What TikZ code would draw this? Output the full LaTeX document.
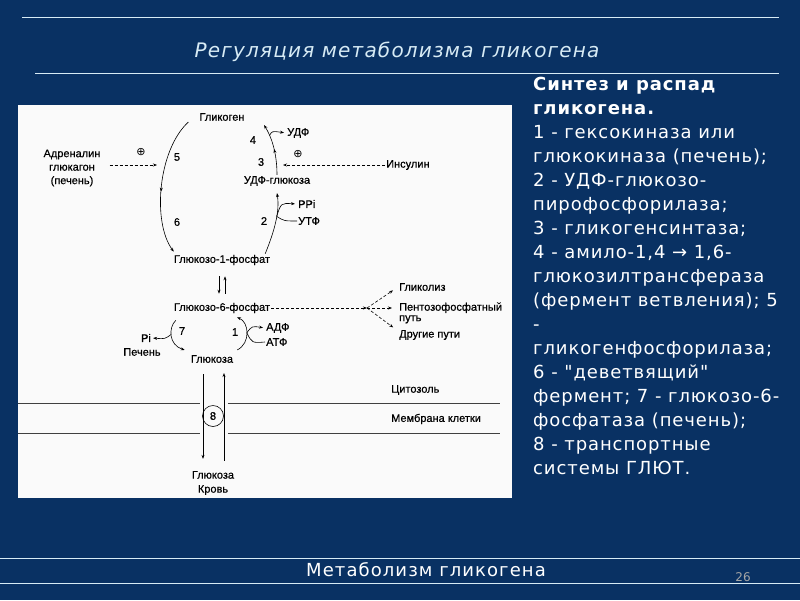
\documentclass[tikz,border=0pt]{standalone}
\usepackage{fontspec}
\setmainfont{DejaVu Sans}[Ligatures=TeXOff]
\newfontfamily\diafont{Liberation Sans}[FakeBold=0.5]
\usetikzlibrary{arrows.meta,positioning,decorations.markings}
\definecolor{slidebg}{RGB}{9,49,99}
\definecolor{rulefg}{RGB}{215,235,245}
\definecolor{pagebg}{RGB}{250,250,250}

\begin{document}
\begin{tikzpicture}[x=1pt, y=-1pt,
    lbl/.style={font=\diafont\fontsize{11}{13}\selectfont, inner sep=1pt, align=center},
    num/.style={font=\diafont\fontsize{11}{13}\selectfont, inner sep=1pt},
    act/.style={inner sep=0, font=\fontsize{11}{12}\selectfont},
    arr/.style={-{Stealth[length=4pt,width=3pt]}, semithick},
    dasharr/.style={arr, dash pattern=on 3pt off 2pt},
    midarr/.style={postaction={decorate}, decoration={markings, mark=at position #1 with {\arrow{Stealth[length=4pt,width=3pt]}}}},
    memb/.style={line width=0.9pt, black!75},
    rule/.style={line width=1pt, rulefg}
]
\fill[slidebg] (0,0) rectangle (800,600);
\useasboundingbox (0,0) rectangle (800,600);
\draw[rule] (22,17) -- (779,17);
\draw[rule] (35,73) -- (779,73);
\draw[rule] (0,558) -- (800,558);
\draw[rule] (0,583) -- (800,583);
\node[font=\fontsize{20}{24}\selectfont\itshape\addfontfeature{LetterSpace=6}, text=rulefg] (title) at (397,52) {Регуляция метаболизма гликогена};
\node[font=\fontsize{18}{20}\selectfont\addfontfeature{LetterSpace=6}, text=white] (foot) at (426,570) {Метаболизм гликогена};
\node[font=\fontsize{12}{14}\selectfont, text=black!35] (page) at (743,577) {26};

\fill[pagebg] (18,105) rectangle (512,498);

\node[lbl] (glk) at (222,117) {Гликоген};
\node[lbl] (udpg) at (277,181) {УДФ-глюкоза};
\node[lbl] (g1p) at (222,260) {Глюкозо-1-фосфат};
\node[lbl] (g6p) at (222,308) {Глюкозо-6-фосфат};
\node[lbl] (glc) at (212,359) {Глюкоза};
\node[lbl, font=\diafont\fontsize{11}{14}\selectfont] (blood) at (213,483) {Глюкоза\\Кровь};
\node[lbl, font=\diafont\fontsize{11}{13.5}\selectfont] (adr) at (72,168) {Адреналин\\глюкагон\\(печень)};
\node[lbl, anchor=west] (ins) at (385,165) {Инсулин};
\node[lbl, anchor=west] (udp) at (286,133) {УДФ};
\node[lbl, anchor=west] (ppi) at (297,204) {PPi};
\node[lbl, anchor=west] (utp) at (297,221) {УТФ};
\node[lbl, anchor=west] (adp) at (265,328) {АДФ};
\node[lbl, anchor=west] (atp) at (265,342) {АТФ};
\node[lbl] (pi) at (146,338) {Pi};
\node[lbl] (liver) at (142,352) {Печень};
\node[lbl, anchor=west] (glyc) at (398,287) {Гликолиз};
\node[lbl, anchor=west, align=left, font=\diafont\fontsize{11}{10.5}\selectfont] (ppp) at (398,313) {Пентозофосфатный\\путь};
\node[lbl, anchor=west] (other) at (398,335) {Другие пути};
\node[lbl, anchor=west] (cyto) at (390,390) {Цитозоль};
\node[lbl, anchor=west] (membr) at (390,419) {Мембрана клетки};
\node[num] (n5) at (177,157) {5};
\node[num] (n6) at (177,222) {6};
\node[num] (n4) at (253,140) {4};
\node[num] (n3) at (261,162) {3};
\node[num] (n2) at (264,221) {2};
\node[num] (n7) at (182,331) {7};
\node[num] (n1) at (235,332) {1};
\node[act] (act1) at (141,152) {⊕};
\node[act] (act2) at (298,154) {⊕};
\coordinate (top4) at (264,125);
\coordinate (ins3) at (283,165);
\coordinate (fan) at (367,308);

\draw[memb] (18,403) -- (200,403);
\draw[memb] (228,403) -- (500,403);
\draw[memb] (18,433) -- (200,433);
\draw[memb] (228,433) -- (500,433);
\node[circle, draw, semithick, fill=pagebg, minimum size=21pt, inner sep=0, font=\diafont\fontsize{11}{12}\selectfont] (glut) at (213,416) {8};

\draw[arr, midarr=0.55] ([xshift=-10pt]glk.south west) .. controls (158,150) and (152,222) .. ([xshift=1pt,yshift=2pt]g1p.north west);
\draw[dasharr, shorten <=8pt] (adr.east |- 0,165) -- (157,165);
\draw[arr, midarr=0.5] (udpg.north) .. controls (277,152) and (271,136) .. (top4) coordinate[pos=0.72] (br4);
\draw[arr, shorten >=2pt] (br4) .. controls (272,131) .. (udp.west);
\draw[dasharr] (ins.west) -- (ins3);
\draw[arr] ([xshift=-6pt]g1p.north east) .. controls (274,232) and (280,212) .. ([yshift=-6pt]udpg.south) coordinate[pos=0.6] (br2);
\draw[arr, shorten >=2pt] (br2) .. controls (281,203) .. (ppi.west);
\draw[semithick] (utp.west) .. controls (284,221) .. (br2);
\draw[arr, shorten <=10pt, shorten >=8pt] ([xshift=-3pt]g1p.south) -- ([xshift=-3pt]g6p.north);
\draw[arr, shorten <=8pt, shorten >=10pt] ([xshift=3pt]g6p.north) -- ([xshift=3pt]g1p.south);
\draw[dasharr] (g6p.east) -- (fan);
\draw[dasharr, shorten >=6pt] (fan) -- (glyc.west);
\draw[dasharr, shorten >=6pt] (fan) -- ([yshift=5pt]ppp.west);
\draw[dasharr, shorten >=6pt] (fan) -- ([yshift=4pt]other.west);
\draw[arr] ([xshift=3pt,yshift=-6pt]g6p.south west) .. controls (168,328) and (169,345) .. ([xshift=-5pt,yshift=4pt]glc.north west) coordinate[pos=0.45] (br7);
\draw[arr, shorten >=1pt] (br7) .. controls (165,339) .. (pi.east);
\draw[arr] ([xshift=3pt,yshift=4pt]glc.north east) .. controls (251,343) and (249,322) .. ([xshift=15pt,yshift=-3pt]g6p.south) coordinate[pos=0.5] (br1);
\draw[arr, shorten >=2pt] (br1) .. controls (252,326) .. (adp.west);
\draw[semithick] (atp.west) .. controls (252,343) .. (br1);
\draw[arr] ([xshift=-9pt,yshift=-10pt]glc.south) -- ([xshift=-10pt,yshift=11pt]blood.north);
\draw[arr] ([xshift=11pt,yshift=9pt]blood.north) -- ([xshift=12pt,yshift=-9pt]glc.south);

\node[anchor=north west, align=left, inner sep=0, text=white, font=\fontsize{18}{24}\selectfont\addfontfeature{LetterSpace=5}] (desc) at (533,77) {\textbf{Синтез и распад}\\\textbf{гликогена.}\\1 - гексокиназа или\\глюкокиназа (печень);\\2 - УДФ-глюкозо-\\пирофосфорилаза;\\3 - гликогенсинтаза;\\4 - амило-1,4 → 1,6-\\глюкозилтрансфераза\\(фермент ветвления); 5\\-\\гликогенфосфорилаза;\\6 - "деветвящий"\\фермент; 7 - глюкозо-6-\\фосфатаза (печень);\\8 - транспортные\\системы ГЛЮТ.};
\end{tikzpicture}
\end{document}
